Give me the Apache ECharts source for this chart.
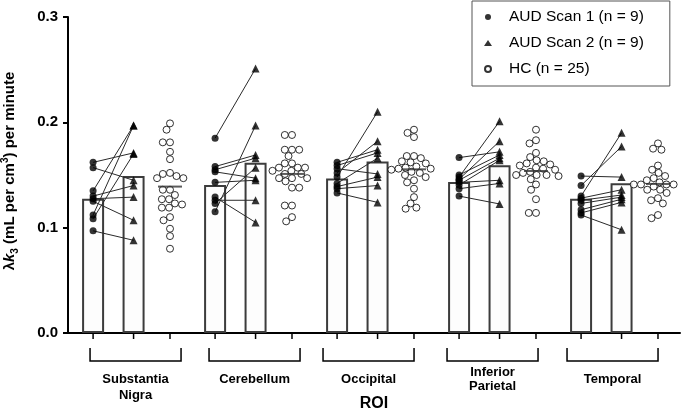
<!DOCTYPE html>
<html>
<head>
<meta charset="utf-8">
<script src="https://cdn.jsdelivr.net/npm/echarts@6/dist/echarts.min.js"></script>
<style>html,body{margin:0;padding:0;background:#fff;}#c{width:685px;height:411px;}</style>
</head>
<body>
<div id="c"></div>
<script>
// ---------------- data ----------------
const rois = ['Substantia\nNigra', 'Cerebellum', 'Occipital', 'Inferior\nParietal', 'Temporal'];
const yTicks = [0.0, 0.1, 0.2, 0.3];

// paired values (same subject index in scan1 / scan2)
const scan1SN = [0.162, 0.157, 0.135, 0.130, 0.1275, 0.125, 0.112, 0.1085, 0.097];
const scan2SN = [0.171, 0.145, 0.197, 0.140, 0.129, 0.107, 0.197, 0.170, 0.088];
const scan1CB = [0.185, 0.158, 0.155, 0.153, 0.143, 0.129, 0.126, 0.123, 0.115];
const scan2CB = [0.251, 0.169, 0.166, 0.147, 0.145, 0.105, 0.126, 0.157, 0.197];
const scan1OC = [0.162, 0.159, 0.156, 0.152, 0.148, 0.142, 0.139, 0.137, 0.133];
const scan2OC = [0.174, 0.171, 0.151, 0.182, 0.210, 0.166, 0.148, 0.140, 0.124];
const scan1IP = [0.1665, 0.150, 0.148, 0.146, 0.145, 0.143, 0.1405, 0.137, 0.130];
const scan2IP = [0.172, 0.169, 0.201, 0.182, 0.166, 0.145, 0.164, 0.142, 0.1225];
const scan1TE = [0.149, 0.140, 0.130, 0.128, 0.126, 0.123, 0.117, 0.114, 0.112];
const scan2TE = [0.148, 0.177, 0.190, 0.136, 0.131, 0.129, 0.127, 0.124, 0.098];

const hcSN = [0.199,0.193,0.181,0.181,0.172,0.165,0.152,0.151,0.149,0.147,0.147,0.136,0.136,0.131,0.127,0.127,0.123,0.122,0.119,0.119,0.110,0.107,0.099,0.092,0.080];
const hcCB = [0.188,0.188,0.174,0.174,0.174,0.168,0.161,0.161,0.157,0.157,0.157,0.154,0.154,0.151,0.151,0.147,0.147,0.147,0.144,0.138,0.138,0.121,0.121,0.110,0.106];
const hcOC = [0.193,0.190,0.186,0.168,0.168,0.166,0.163,0.162,0.161,0.158,0.157,0.156,0.156,0.155,0.153,0.152,0.150,0.148,0.145,0.143,0.137,0.129,0.123,0.119,0.118];
const hcIP = [0.193,0.183,0.180,0.171,0.167,0.164,0.163,0.161,0.160,0.159,0.157,0.156,0.155,0.153,0.152,0.150,0.150,0.150,0.149,0.146,0.141,0.136,0.127,0.114,0.114];
const hcTE = [0.180,0.175,0.174,0.159,0.155,0.152,0.149,0.147,0.145,0.143,0.141,0.141,0.141,0.141,0.141,0.141,0.139,0.136,0.136,0.133,0.128,0.126,0.123,0.112,0.109];

const barScan1 = [0.1275, 0.1405, 0.1466, 0.1434, 0.1275];
const barScan2 = [0.1490, 0.1617, 0.1627, 0.1592, 0.1421];
const hcCenter = [0.139, 0.151, 0.1554, 0.1538, 0.1415];

const names = ['AUD Scan 1 (n = 9)', 'AUD Scan 2 (n = 9)', 'HC (n = 25)'];

// ---------------- layout helpers ----------------
const scan1 = [scan1SN, scan1CB, scan1OC, scan1IP, scan1TE];
const scan2 = [scan2SN, scan2CB, scan2OC, scan2IP, scan2TE];
const hc = [hcSN, hcCB, hcOC, hcIP, hcTE];

const GRID = {left: 68, right: 5, top: 17, bottom: 78};
const XMIN = -0.62, XMAX = 14.5, YMAX = 0.3;
const pxPerX = (685 - GRID.left - GRID.right) / (XMAX - XMIN);
const pxPerY = (411 - GRID.top - GRID.bottom) / YMAX;
const GROUP_STEP = 3.014;
const SLOT = [0, 1.0, 1.9];
const gx = (g, k) => g * GROUP_STEP + SLOT[k];

// deterministic beeswarm offsets (in x-axis units)
function swarm(vals, diam) {
  const order = vals.map((v, i) => i).sort((a, b) => vals[b] - vals[a]);
  const placed = [];
  const off = new Array(vals.length).fill(0);
  order.forEach(i => {
    const y = vals[i] * pxPerY;
    const forb = [];
    placed.forEach(p => {
      const dy = Math.abs(p.y - y);
      if (dy < diam) {
        const w = Math.sqrt(diam * diam - dy * dy);
        forb.push([p.x - w, p.x + w]);
      }
    });
    const cands = [0];
    forb.forEach(f => { cands.push(f[0], f[1]); });
    cands.sort((a, b) => Math.abs(a) - Math.abs(b));
    let best = 0;
    for (const c of cands) {
      if (forb.every(f => c <= f[0] + 1e-6 || c >= f[1] - 1e-6)) { best = c; break; }
    }
    placed.push({x: best, y: y});
    off[i] = best / pxPerX;
  });
  return off;
}

const s1Data = [], s2Data = [], hcData = [], pairData = [], barData = [], hcLineData = [], tickData = [];
for (let g = 0; g < 5; g++) {
  barData.push([gx(g, 0), barScan1[g]], [gx(g, 1), barScan2[g]]);
  tickData.push([gx(g, 0), 0], [gx(g, 1), 0], [gx(g, 2), 0]);
  scan1[g].forEach((v, i) => {
    s1Data.push([gx(g, 0), v]);
    s2Data.push([gx(g, 1), scan2[g][i]]);
    pairData.push([gx(g, 0), v, gx(g, 1), scan2[g][i]]);
  });
  const offs = swarm(hc[g], 7.2);
  hc[g].forEach((v, i) => hcData.push([gx(g, 2) + offs[i], v]));
  hcLineData.push([gx(g, 2), hcCenter[g]]);
}
const labelData = rois.map((r, g) => [(gx(g, 0) + gx(g, 2)) / 2, 0, g]);
const labelShift = [4, 1, -7, -5, -7];      // px, bracket/label centre vs group centre
const labelTop = [371, 371, 371, 365, 371];
const labelLH = [16, 16, 16, 14, 16];

const FONT = 'Liberation Sans, Arial, Helvetica, sans-serif';

const chart = echarts.init(document.getElementById('c'), null, {renderer: 'canvas'});
chart.setOption({
  animation: false,
  backgroundColor: '#fff',
  grid: Object.assign({containLabel: false, outerBoundsMode: 'none'}, GRID),
  legend: {
    orient: 'vertical', left: 472, top: 1,
    padding: [8, 26, 9, 12],
    itemWidth: 8, itemHeight: 6, itemGap: 10,
    borderColor: '#555', borderWidth: 1,
    selectedMode: false,
    symbolKeepAspect: true,
    textStyle: {fontFamily: FONT, fontSize: 15.5, color: '#000', padding: [0, 0, 0, 12]},
    data: names
  },
  xAxis: {
    type: 'value', min: XMIN, max: XMAX,
    name: 'ROI', nameLocation: 'middle', nameGap: 63,
    nameTextStyle: {fontFamily: FONT, fontSize: 16, fontWeight: 'bold', color: '#000'},
    axisLine: {show: true, onZero: false, lineStyle: {color: '#000', width: 2}},
    axisTick: {show: false},
    axisLabel: {show: false},
    splitLine: {show: false}
  },
  yAxis: {
    type: 'value', min: 0, max: YMAX, interval: 0.1,
    name: '{a|λ}{k|k}{sub|3}{a| (mL per cm}{sup|3}{a|) per minute}',
    nameLocation: 'middle', nameGap: 48, nameRotate: 90,
    nameTextStyle: {
      fontFamily: FONT, fontSize: 15, fontWeight: 'bold', color: '#000',
      padding: [0, 0, 0, 8],
      rich: {
        a: {fontFamily: FONT, fontSize: 15, fontWeight: 'bold', color: '#000', lineHeight: 20},
        k: {fontFamily: FONT, fontSize: 15, fontWeight: 'bold', fontStyle: 'italic', color: '#000', lineHeight: 20},
        sub: {fontFamily: FONT, fontSize: 10, fontWeight: 'bold', color: '#000', lineHeight: 10, verticalAlign: 'bottom'},
        sup: {fontFamily: FONT, fontSize: 10, fontWeight: 'bold', color: '#000', lineHeight: 10, verticalAlign: 'top'}
      }
    },
    axisLine: {show: true, onZero: false, lineStyle: {color: '#000', width: 2}},
    axisTick: {show: true, length: 5, lineStyle: {color: '#000', width: 2}},
    axisLabel: {
      fontFamily: FONT, fontSize: 15, fontWeight: 'bold', color: '#000', margin: 10,
      formatter: v => { const t = yTicks.find(x => Math.abs(x - v) < 1e-9); return (t === undefined ? v : t).toFixed(1); }
    },
    splitLine: {show: false}
  },
  series: [
    {
      type: 'bar', name: 'bars', data: barData, barWidth: 22, z: 1,
      itemStyle: {color: '#fdfdfd', borderColor: '#3c3c3c', borderWidth: 2},
      emphasis: {disabled: true}
    },
    {
      type: 'custom', name: 'pairs', data: pairData, z: 2, silent: true,
      encode: {x: [0, 2], y: [1, 3]},
      renderItem: (params, api) => {
        const p1 = api.coord([api.value(0), api.value(1)]);
        const p2 = api.coord([api.value(2), api.value(3)]);
        return {type: 'line', shape: {x1: p1[0], y1: p1[1], x2: p2[0], y2: p2[1]},
                style: {stroke: '#2a2a2a', lineWidth: 1}};
      }
    },
    {
      type: 'scatter', name: names[0], data: s1Data, symbol: 'circle', symbolSize: 7, z: 4,
      itemStyle: {color: '#000'}
    },
    {
      type: 'scatter', name: names[1], data: s2Data, symbol: 'triangle', symbolSize: 8, z: 4,
      symbolKeepAspect: true,
      itemStyle: {color: '#000'}
    },
    {
      type: 'scatter', name: names[2], data: hcData, symbol: 'circle', symbolSize: 7, z: 4,
      itemStyle: {color: '#fff', borderColor: '#000', borderWidth: 1}
    },
    {
      type: 'scatter', name: 'hcLine', data: hcLineData, symbol: 'rect', symbolSize: [24, 2], z: 5,
      itemStyle: {color: '#333'}
    },
    {
      type: 'custom', name: 'xTicks', data: tickData, clip: false, silent: true, z: 10,
      encode: {x: 0, y: 1},
      renderItem: (params, api) => {
        const t = api.coord([api.value(0), 0]);
        return {type: 'rect', shape: {x: t[0] - 0.75, y: t[1], width: 1.5, height: 6},
                style: {fill: '#000'}};
      }
    },
    {
      type: 'custom', name: 'roiLabels', data: labelData, clip: false, silent: true, z: 3,
      encode: {x: 0, y: 1},
      renderItem: (params, api) => {
        const g = api.value(2);
        const c = api.coord([api.value(0), 0]);
        const cx = c[0] + labelShift[g];
        const half = 45.5, y0 = 348, y1 = 361;
        return {
          type: 'group',
          children: [
            {type: 'polyline', shape: {points: [[cx - half, y0], [cx - half, y1], [cx + half, y1], [cx + half, y0]]},
             style: {stroke: '#000', lineWidth: 1.5, fill: null}},
            {type: 'text', x: cx, y: labelTop[g],
             style: {text: rois[g], textAlign: 'center', textVerticalAlign: 'top',
                     font: 'bold 13px ' + FONT, fill: '#000', lineHeight: labelLH[g]}}
          ]
        };
      }
    }
  ]
});
</script>
</body>
</html>
